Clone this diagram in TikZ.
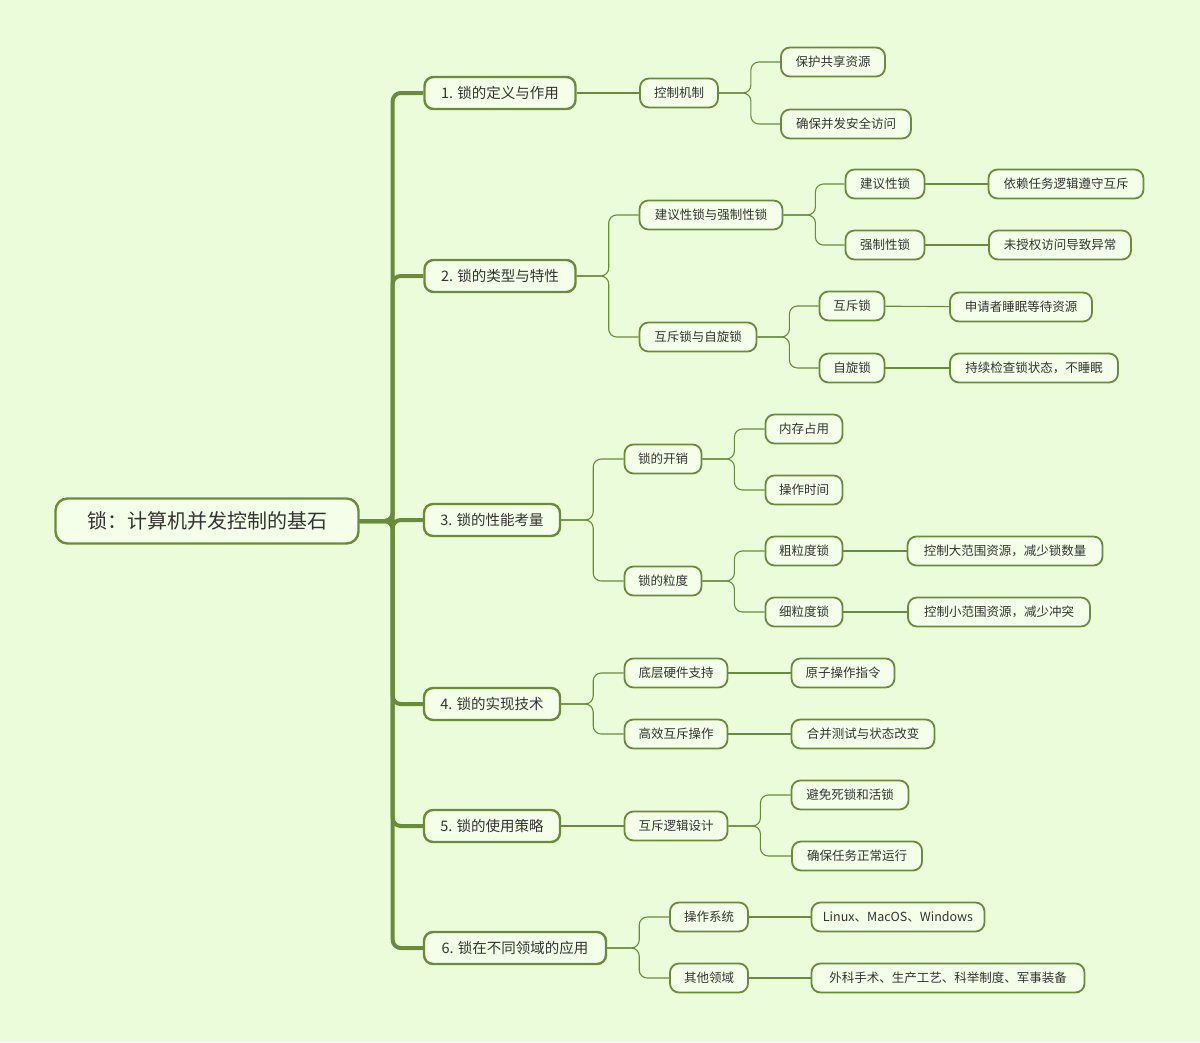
\documentclass[tikz,border=0pt]{standalone}
\usepackage{fontspec}
\setmainfont{Noto Sans CJK SC}
\definecolor{bg}{HTML}{EBFCDA}
\definecolor{gr}{HTML}{6A8C3A}
\definecolor{nf}{HTML}{F3FFE8}
\begin{document}
\begin{tikzpicture}[x=1pt,y=-1pt,
 nd/.style={draw=gr,fill=nf,rounded corners=9,line width=1.8,minimum height=29,inner sep=0,font=\fontsize{12.5}{14}\selectfont,text=black!80},
 l1/.style={nd,line width=2.4,minimum height=32,font=\fontsize{14.5}{16}\selectfont},
 c/.style={draw=gr,line width=1.1,rounded corners=8},
 t/.style={draw=gr,line width=4,rounded corners=8}]
\fill[bg] (0,0) rectangle (1200,1042);
\node[nd,line width=2.4,minimum width=303,minimum height=45,rounded corners=12,font=\fontsize{20}{22}\selectfont] (r) at (207,521) {锁：计算机并发控制的基石};
\node[l1,minimum width=151] (a) at (500,93) {1. 锁的定义与作用};
\node[l1,minimum width=151] (b) at (500,276) {2. 锁的类型与特性};
\node[l1,minimum width=136] (c) at (492,520) {3. 锁的性能考量};
\node[l1,minimum width=136] (d) at (492,704) {4. 锁的实现技术};
\node[l1,minimum width=136] (e) at (492,826) {5. 锁的使用策略};
\node[l1,minimum width=182] (f) at (515,948) {6. 锁在不同领域的应用};
\foreach \n in {a,b,c,d,e,f} \draw[t] (r.east) -- ++(33,0) |- (\n.west);
% level 2
\node[nd,minimum width=78] (a1) at (679,93) {控制机制};
\node[nd,minimum width=143] (b1) at (711,215) {建议性锁与强制性锁};
\node[nd,minimum width=117] (b2) at (698,337) {互斥锁与自旋锁};
\node[nd,minimum width=77] (c1) at (663,459) {锁的开销};
\node[nd,minimum width=77] (c2) at (663,581) {锁的粒度};
\node[nd,minimum width=103] (d1) at (676,673) {底层硬件支持};
\node[nd,minimum width=103] (d2) at (676,734) {高效互斥操作};
\node[nd,minimum width=103] (e1) at (676,826) {互斥逻辑设计};
\node[nd,minimum width=78] (f1) at (709,917) {操作系统};
\node[nd,minimum width=78] (f2) at (709,978) {其他领域};
\draw[c] (a) -- (a1);
\foreach \p/\k in {b/b1,b/b2,c/c1,c/c2,d/d1,d/d2,f/f1,f/f2} \draw[c] (\p.east) -- ++(32,0) |- (\k.west);
\draw[c] (e) -- (e1);
% level 3
\node[nd,minimum width=104] (a11) at (833,62) {保护共享资源};
\node[nd,minimum width=130] (a12) at (846,124) {确保并发安全访问};
\node[nd,minimum width=79] (b11) at (885,184) {建议性锁};
\node[nd,minimum width=79] (b12) at (885,245) {强制性锁};
\node[nd,minimum width=65] (b21) at (852,306) {互斥锁};
\node[nd,minimum width=65] (b22) at (852,368) {自旋锁};
\node[nd,minimum width=77] (c11) at (804,429) {内存占用};
\node[nd,minimum width=77] (c12) at (804,490) {操作时间};
\node[nd,minimum width=77] (c21) at (804,551) {粗粒度锁};
\node[nd,minimum width=77] (c22) at (804,612) {细粒度锁};
\node[nd,minimum width=103] (d11) at (843,673) {原子操作指令};
\node[nd,minimum width=143] (d21) at (863,734) {合并测试与状态改变};
\node[nd,minimum width=117] (e11) at (850,795) {避免死锁和活锁};
\node[nd,minimum width=130] (e12) at (857,856) {确保任务正常运行};
\node[nd,minimum width=173] (f11) at (898,917) {Linux、MacOS、Windows};
\node[nd,minimum width=273] (f21) at (948,978) {外科手术、生产工艺、科举制度、军事装备};
\foreach \p/\k in {a1/a11,a1/a12,b1/b11,b1/b12,b2/b21,b2/b22,c1/c11,c1/c12,c2/c21,c2/c22,e1/e11,e1/e12} \draw[c] (\p.east) -- ++(32,0) |- (\k.west);
\foreach \p/\k in {d1/d11,d2/d21,f1/f11,f2/f21} \draw[c] (\p) -- (\k);
% level 4
\node[nd,minimum width=155] (b111) at (1066,184) {依赖任务逻辑遵守互斥};
\node[nd,minimum width=142] (b121) at (1060,245) {未授权访问导致异常};
\node[nd,minimum width=142] (b211) at (1021,307) {申请者睡眠等待资源};
\node[nd,minimum width=168] (b221) at (1034,368) {持续检查锁状态，不睡眠};
\node[nd,minimum width=195] (c211) at (1005,551) {控制大范围资源，减少锁数量};
\node[nd,minimum width=182] (c221) at (999,612) {控制小范围资源，减少冲突};
\foreach \p/\k in {b11/b111,b12/b121,b21/b211,b22/b221,c21/c211,c22/c221} \draw[c] (\p) -- (\k);
\end{tikzpicture}
\end{document}
